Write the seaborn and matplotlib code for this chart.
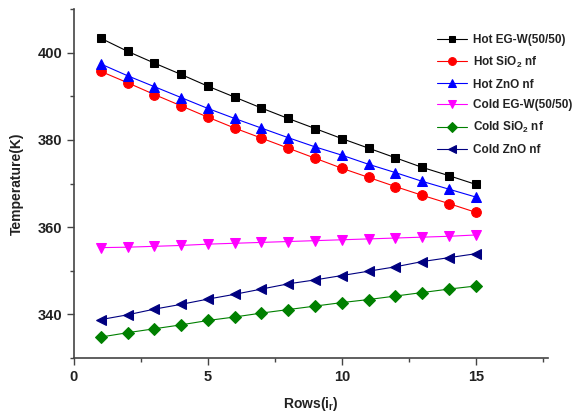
import matplotlib
matplotlib.use("Agg")
import matplotlib.pyplot as plt
import seaborn as sns
import pandas as pd
from matplotlib.ticker import MultipleLocator

rows = list(range(1, 16))
hot_egw = [403.3, 400.3, 397.6, 395.0, 392.3, 389.8, 387.3, 384.9, 382.6, 380.3, 378.1, 375.9, 373.7, 371.8, 369.8]
hot_sio2 = [395.7, 393.1, 390.4, 387.8, 385.2, 382.7, 380.4, 378.1, 375.8, 373.5, 371.4, 369.3, 367.3, 365.4, 363.4]
hot_zno = [397.4, 394.7, 392.2, 389.7, 387.2, 384.9, 382.7, 380.5, 378.4, 376.5, 374.4, 372.5, 370.5, 368.7, 366.9]
cold_egw = [355.3, 355.4, 355.6, 355.8, 356.1, 356.3, 356.5, 356.7, 356.9, 357.1, 357.3, 357.5, 357.7, 357.9, 358.2]
cold_sio2 = [334.8, 335.8, 336.7, 337.6, 338.6, 339.4, 340.3, 341.1, 341.9, 342.7, 343.4, 344.2, 345.0, 345.8, 346.5]
cold_zno = [338.8, 339.9, 341.2, 342.3, 343.5, 344.6, 345.8, 347.0, 347.9, 348.9, 349.9, 350.9, 352.1, 353.0, 353.9]

labels = ["Hot EG-W(50/50)", "Hot SiO$_2$ nf", "Hot ZnO nf",
          "Cold EG-W(50/50)", "Cold SiO$_2$ nf", "Cold ZnO nf"]
series = [hot_egw, hot_sio2, hot_zno, cold_egw, cold_sio2, cold_zno]
colors = ["#000000", "#ff0000", "#0000ff", "#ff00ff", "#008000", "#000080"]
markers = ["s", "o", "^", "v", "D", "<"]
msizes = [6, 7, 7, 7, 6, 7]

sns.set_style("ticks")
plt.rcParams["font.family"] = ["Liberation Sans", "DejaVu Sans"]
plt.rcParams["mathtext.fontset"] = "custom"
plt.rcParams["mathtext.rm"] = "Liberation Sans:bold"
plt.rcParams["mathtext.it"] = "Liberation Sans:bold"

fig = plt.figure(figsize=(5.84, 4.15), dpi=100)
ax = fig.add_axes([74/584, 1-358/415, 474/584, 349/415])

for lab, ys, c, m, ms in zip(labels, series, colors, markers, msizes):
    df = pd.DataFrame({"Rows": rows, "Temperature": ys})
    sns.lineplot(data=df, x="Rows", y="Temperature", ax=ax, color=c, marker=m,
                 markersize=ms, markeredgecolor=c, linewidth=0.8, label=lab)

ax.set_xlim(0, 17.7)
ax.set_ylim(330, 410)
ax.xaxis.set_major_locator(MultipleLocator(5))
ax.xaxis.set_minor_locator(MultipleLocator(2.5))
ax.yaxis.set_major_locator(MultipleLocator(20))
ax.yaxis.set_minor_locator(MultipleLocator(10))
ax.tick_params(which="major", length=5, width=1, color="#444444", labelsize=10.5, labelcolor="#222222")
ax.tick_params(which="minor", length=3, width=1, color="#444444")
for lbl in ax.get_xticklabels() + ax.get_yticklabels():
    lbl.set_fontweight("bold")
for s in ["top", "right"]:
    ax.spines[s].set_visible(False)
for s in ["left", "bottom"]:
    ax.spines[s].set_color("#444444")
    ax.spines[s].set_linewidth(1.2)

ax.set_xlabel("Rows(i$_r$)", fontsize=10, fontweight="bold", color="#222222", labelpad=8)
ax.set_ylabel("Temperature(K)", fontsize=10, fontweight="bold", color="#222222", labelpad=10)

leg = ax.legend(loc="upper left", bbox_to_anchor=(432/584, 1-29/415),
                bbox_transform=fig.transFigure, frameon=False,
                prop={"weight": "bold", "size": 8.5}, handlelength=2.6,
                handletextpad=0.5, labelspacing=0.75, borderaxespad=0,
                markerscale=0.8)
for t in leg.get_texts():
    t.set_color("#222222")

fig.savefig("out.png", dpi=100)
